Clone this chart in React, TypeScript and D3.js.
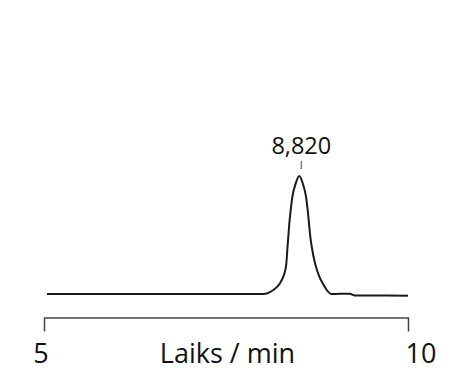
import { useRef, useEffect } from 'react'
import * as d3 from 'd3'

// chromatogram trace
const timeMin = [
  5.04, 8.008, 8.15, 8.242, 8.287, 8.315, 8.329, 8.342, 8.356, 8.37, 8.389, 8.412, 8.458, 8.507,
  8.554, 8.599, 8.622, 8.64, 8.658, 8.685, 8.723, 8.782, 8.828, 8.883, 8.952, 9.2, 9.27, 10.0,
]
const signal = [
  0, 0, 3.4, 9.1, 14.7, 20.4, 26.0, 37.3, 48.6, 59.9, 71.2, 82.5, 93.8, 100,
  93.8, 82.5, 71.2, 59.9, 48.6, 37.3, 26.0, 14.7, 9.1, 3.4, 0, 0.3, -1.2, -1.4,
]
const axisTicks = [5, 10]
const peakLabel = '8,820'
const axisTitle = 'Laiks / min'

const FONT = "'Open Sans', 'Noto Sans', sans-serif"

export default function App() {
  const svgRef = useRef<SVGSVGElement>(null)

  useEffect(() => {
    const svg = svgRef.current
    if (!svg) return
    const W = 460
    const H = 370
    const sel = d3.select(svg)
    sel.selectAll('*').remove()
    sel.attr('width', W).attr('height', H)

    const x = d3.scaleLinear().domain([axisTicks[0], axisTicks[1]]).range([44, 408])
    const y = d3.scaleLinear().domain([0, 100]).range([294, 176])

    const pts = timeMin.map((t, i) => [t, signal[i]] as [number, number])
    const line = d3
      .line<[number, number]>()
      .x((d) => x(d[0]))
      .y((d) => y(d[1]))
      .curve(d3.curveMonotoneX)

    sel.append('path')
      .attr('d', line(pts))
      .attr('fill', 'none')
      .attr('stroke', '#1a1a1a')
      .attr('stroke-width', 2)
      .attr('stroke-linejoin', 'round')

    // peak marker + label
    const iMax = d3.maxIndex(signal)
    const px = x(timeMin[iMax]) + 2
    sel.append('line')
      .attr('x1', px).attr('x2', px)
      .attr('y1', 161).attr('y2', 169)
      .attr('stroke', '#666').attr('stroke-width', 1.2)
    sel.append('text')
      .attr('x', px).attr('y', 154)
      .attr('text-anchor', 'middle')
      .attr('font-family', FONT).attr('font-size', 23.5)
      .attr('fill', '#111')
      .text(peakLabel)

    // bracket axis
    const axis = d3.axisBottom(x).tickValues([]).tickSizeOuter(14)
    const g = sel.append('g').attr('transform', 'translate(0,317.5)').call(axis)
    g.select('.domain').attr('stroke', '#444').attr('stroke-width', 1.5)

    const labelY = 363
    sel.append('text')
      .attr('x', x(axisTicks[0]) - 3).attr('y', labelY)
      .attr('text-anchor', 'middle')
      .attr('font-family', FONT).attr('font-size', 27)
      .attr('fill', '#111')
      .text(String(axisTicks[0]))
    sel.append('text')
      .attr('x', x(axisTicks[1]) + 13).attr('y', labelY)
      .attr('text-anchor', 'middle')
      .attr('font-family', FONT).attr('font-size', 27)
      .attr('fill', '#111')
      .text(String(axisTicks[1]))
    sel.append('text')
      .attr('x', 227.5).attr('y', labelY)
      .attr('text-anchor', 'middle')
      .attr('font-family', FONT).attr('font-size', 27)
      .attr('fill', '#111')
      .text(axisTitle)
  }, [])

  return (
    <svg
      ref={svgRef}
      style={{ position: 'fixed', left: 0, top: 0, background: '#fff' }}
    />
  )
}
